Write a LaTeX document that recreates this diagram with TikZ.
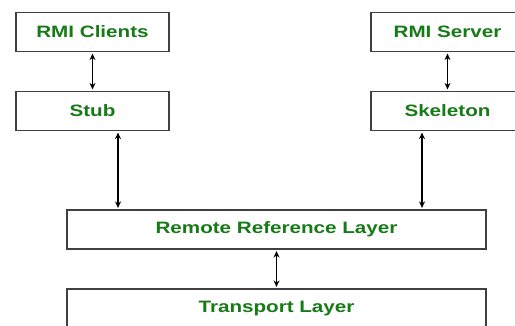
\documentclass[tikz,border=0pt]{standalone}
\usepackage{fontspec}
\usetikzlibrary{arrows.meta}
\setmainfont[FakeStretch=1.25]{Liberation Sans}
\definecolor{layergreen}{RGB}{22,122,22}
\tikzset{
  layer/.style={draw=black!75, line width=1.2pt, fill=white, inner sep=0pt,
    minimum height=39pt, text=layergreen, font=\fontsize{16.5}{18}\selectfont\bfseries},
  link/.style={{Stealth[length=6.5pt,width=6pt]}-{Stealth[length=6.5pt,width=6pt]},
    line width=1.3pt, black, shorten >=1.5pt, shorten <=1.5pt}
}
\begin{document}
\begin{tikzpicture}[x=1pt, y=-1pt]
\useasboundingbox (0,0) rectangle (515,326);
\clip (0,0) rectangle (515,326);
\node [layer, minimum width=153pt] (clients) at (92.5,32) {RMI Clients};
\node [layer, minimum width=153pt] (stub) at (92.5,111) {Stub};
\node [layer, minimum width=153pt] (server) at (447.5,32) {RMI Server};
\node [layer, minimum width=153pt] (skeleton) at (447.5,111) {Skeleton};
\node [layer, minimum width=419pt] (rrl) at (276.5,229.5) {Remote Reference Layer};
\node [layer, minimum width=419pt] (transport) at (276.5,308.5) {Transport Layer};
\draw [link] (clients) -- (stub);
\draw [link] (server) -- (skeleton);
\draw [link] ([xshift=25.5pt]stub.south) -- ([xshift=25.5pt]stub.south |- rrl.north);
\draw [link] ([xshift=-25.5pt]skeleton.south) -- ([xshift=-25.5pt]skeleton.south |- rrl.north);
\draw [link] (rrl) -- (transport);
\end{tikzpicture}
\end{document}
